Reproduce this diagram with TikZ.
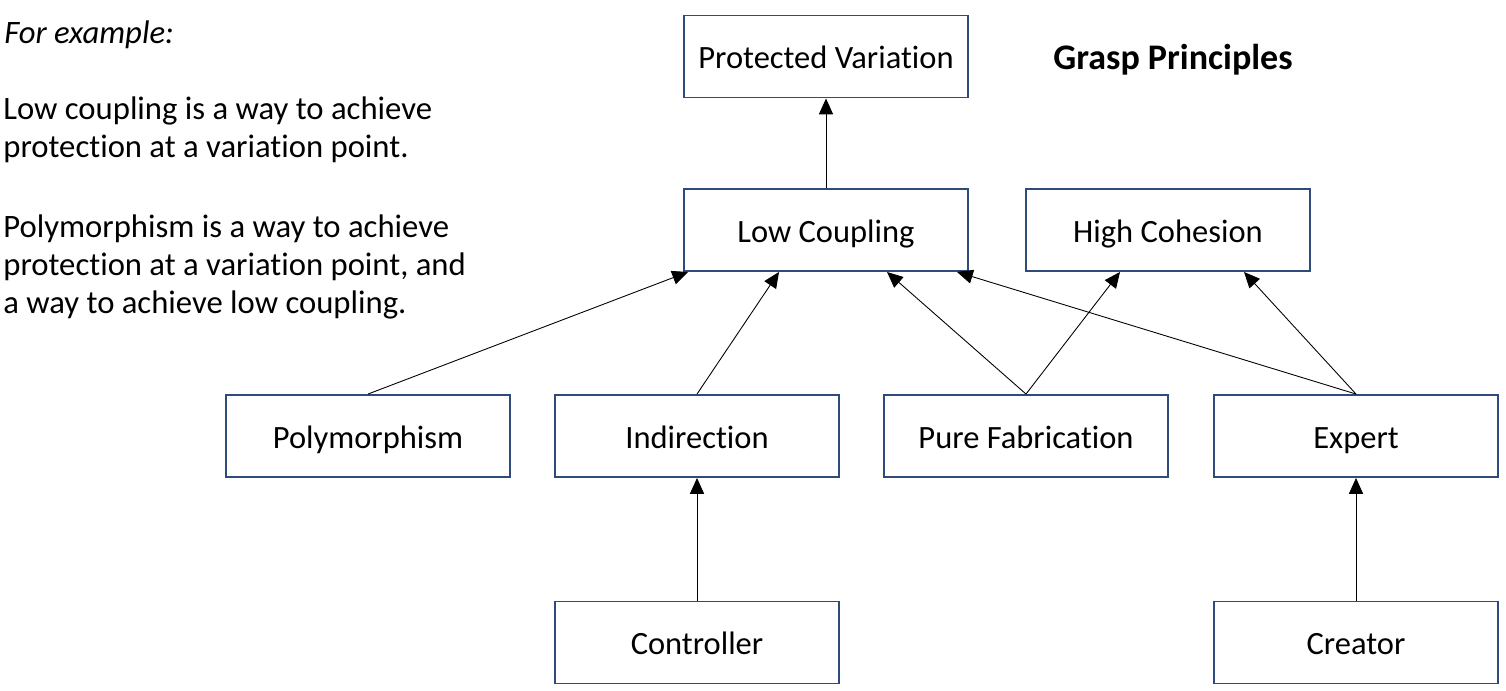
\documentclass[tikz,border=0pt]{standalone}
\usepackage{fontspec}
\setmainfont[Ligatures={NoCommon}]{Carlito}
\usetikzlibrary{arrows.meta,calc}
\definecolor{boxblue}{HTML}{2F4B7C}
\tikzset{
  gbox/.style={draw=boxblue, line width=1.1pt, fill=white, minimum width=5.68cm, minimum height=1.64cm,
    inner sep=0pt, font=\fontsize{18.5}{22}\selectfont, text height=14.1pt, text depth=0pt},
  arr/.style={line width=0.5pt, -{Triangle[length=9pt,width=8pt]}},
  ltext/.style={anchor=base west, inner sep=0pt, font=\fontsize{18.6}{22}\selectfont}
}
\begin{document}
\begin{tikzpicture}[x=0.02cm,y=-0.02cm]
\useasboundingbox (0,0) rectangle (1506,690);
% left text
\node[ltext] (t0) at (4,43) {\itshape For example:};
\node[ltext] (t1) at (3,119) {Low coupling is a way to achieve};
\node[ltext] (t2) at (3,157) {protection at a variation point.};
\node[ltext] (t3) at (3,237) {Polymorphism is a way to achieve};
\node[ltext] (t4) at (3,275) {protection at a variation point, and};
\node[ltext] (t5) at (3,313) {a way to achieve low coupling.};
% title
\node[anchor=base west, inner sep=0pt, font=\fontsize{20.5}{24}\selectfont\bfseries] (title) at (1053,69) {Grasp Principles};
% boxes
\node[gbox] (pv) at (826,56.5) {Protected Variation};
\node[gbox] (lc) at (826,230) {Low Coupling};
\node[gbox] (hc) at (1168,230) {High Cohesion};
\node[gbox] (poly) at (368,436) {Polymorphism};
\node[gbox] (ind) at (697,436) {Indirection};
\node[gbox] (pf) at (1026,436) {Pure Fabrication};
\node[gbox] (exp) at (1356,436) {Expert};
\node[gbox] (ctl) at (697,642.5) {Controller};
\node[gbox] (cre) at (1356,642.5) {Creator};
% arrows
\draw[arr] (lc.north) -- (pv.south);
\draw[arr] (poly.north) -- ([xshift=-2.76cm]lc.south);
\draw[arr] (ind.north) -- ([xshift=-0.94cm]lc.south);
\draw[arr] (pf.north) -- ([xshift=1.22cm]lc.south);
\draw[arr] (pf.north) -- ([xshift=-0.96cm]hc.south);
\draw[arr] (exp.north) -- ([xshift=2.62cm]lc.south);
\draw[arr] (exp.north) -- ([xshift=1.52cm]hc.south);
\draw[arr] (ctl.north) -- (ind.south);
\draw[arr] (cre.north) -- (exp.south);
\end{tikzpicture}
\end{document}
